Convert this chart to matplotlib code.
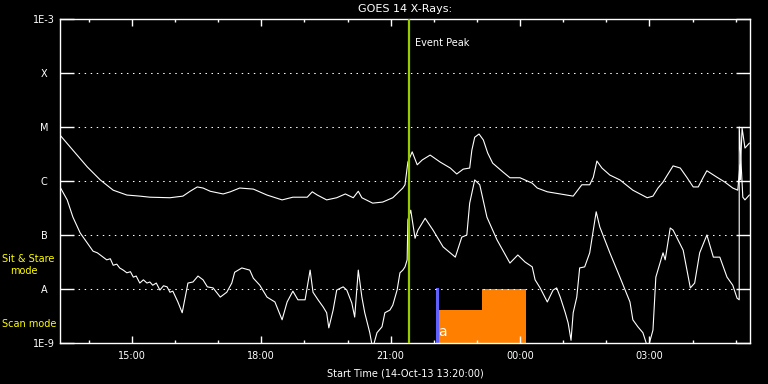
import matplotlib
matplotlib.use('Agg')
import matplotlib.pyplot as plt
import numpy as np

# minutes after 13:20 (14-Oct-13), log10 flux [W/m^2]
long_t = [0, 18, 38, 56, 74, 93, 111, 125, 153, 171, 181, 191, 199, 209, 227, 237, 250, 269,
          288, 309, 324, 344, 351, 358, 371, 385, 397, 408, 415, 420, 435, 449, 463, 477,
          480, 484, 490, 497, 504, 515, 529, 543, 552, 561, 570, 573, 577, 583, 589, 595,
          602, 616, 626, 640, 657, 664, 678, 696, 714, 726, 737, 742, 747, 754, 765, 779,
          797, 817, 825, 832, 839, 845, 853, 863, 872, 881, 888, 895, 900, 914, 925, 936,
          943, 946, 946, 949, 953, 959]
long_f = [-5.15, -5.43, -5.74, -5.98, -6.17, -6.26, -6.28, -6.30, -6.31, -6.28, -6.19, -6.11,
          -6.13, -6.19, -6.24, -6.20, -6.13, -6.15, -6.26, -6.35, -6.30, -6.30, -6.20, -6.26,
          -6.35, -6.31, -6.24, -6.31, -6.19, -6.31, -6.41, -6.39, -6.31, -6.13, -6.07, -5.65,
          -5.46, -5.70, -5.61, -5.52, -5.65, -5.76, -5.87, -5.78, -5.76, -5.43, -5.19, -5.13,
          -5.24, -5.48, -5.67, -5.83, -5.94, -5.94, -6.04, -6.13, -6.20, -6.24, -6.28, -6.07,
          -6.07, -5.93, -5.63, -5.76, -5.89, -5.98, -6.17, -6.31, -6.28, -6.13, -6.02, -5.89,
          -5.72, -5.76, -5.93, -6.11, -6.11, -5.93, -5.81, -5.93, -6.02, -6.13, -6.17, -5.70,
          -5.98, -5.02, -5.39, -5.30]

short_t = [0, 10, 18, 28, 38, 46, 52, 56, 60, 65, 70, 74, 79, 83, 88, 93, 98, 102, 106, 111,
           116, 121, 125, 129, 134, 139, 144, 149, 153, 157, 164,
           170, 174, 178, 185, 192, 199, 205, 213, 223, 232, 239, 243, 253, 264, 269, 278, 288,
           299, 309, 316, 324, 331, 341, 348, 352, 359, 366, 371, 374, 380, 385, 394, 399, 406,
           410, 415, 420, 424, 431, 435, 441, 448, 452, 459, 463, 469, 473, 477, 480, 483, 484,
           488, 494, 498, 508, 519, 533, 550, 559, 566, 570, 577, 584, 594, 608, 626, 637, 647,
           657, 661, 668, 678, 686, 691, 696, 703, 707, 711, 714, 719, 723, 730, 737, 742, 746,
           751, 765, 779, 793, 797, 804, 811, 818, 825, 829, 839, 842, 849, 853, 867, 877, 883,
           890, 900, 909, 918, 928, 936, 942, 945, 945, 950, 953, 959]
short_f = [-6.11, -6.35, -6.67, -6.96, -7.15, -7.30, -7.33, -7.37, -7.41, -7.46, -7.44, -7.56,
           -7.54, -7.61, -7.65, -7.70, -7.68, -7.78, -7.76, -7.89, -7.83, -7.89, -7.87, -7.93,
           -7.89, -8.02, -7.94, -7.96, -8.06, -8.04, -8.24, -8.44, -8.17, -7.89, -7.87, -7.76,
           -7.83, -7.96, -7.98, -8.15, -8.06, -7.89, -7.69, -7.61, -7.65, -7.80, -7.93, -8.15,
           -8.24, -8.57, -8.24, -8.04, -8.20, -8.20, -7.65, -8.06, -8.20, -8.33, -8.44, -8.72,
           -8.39, -8.02, -7.96, -8.02, -8.26, -8.52, -7.65, -8.15, -8.44, -8.81, -9.10, -8.81,
           -8.70, -8.44, -8.39, -8.30, -8.02, -7.70, -7.65, -7.59, -7.46, -6.72, -6.54, -7.06,
           -6.91, -6.69, -6.91, -7.22, -7.41, -7.04, -7.00, -6.41, -5.98, -6.07, -6.67, -7.09,
           -7.52, -7.37, -7.50, -7.59, -7.83, -7.98, -8.24, -8.02, -7.98, -8.15, -8.44, -8.63,
           -8.95, -8.44, -8.15, -7.61, -7.59, -7.33, -6.91, -6.57, -6.85, -7.33, -7.78, -8.24,
           -8.57, -8.70, -8.81, -9.10, -8.76, -7.78, -7.33, -7.46, -6.87, -6.91, -7.28, -7.98,
           -7.89, -7.33, -7.00, -7.41, -7.41, -7.78, -7.93, -8.17, -8.20, -5.00, -6.30, -6.35,
           -6.26]

event_peak = 486          # 21:26
mode_switch = 525         # 22:05
scan_t = [527, 587, 649]  # start, step, end
scan_lvl = [-8.39, -8.0]

tick_major = [100, 280, 460, 640, 820]
tick_labels = ['15:00', '18:00', '21:00', '00:00', '03:00']
ytick_vals = [1e-9, 1e-8, 1e-7, 1e-6, 1e-5, 1e-4, 1e-3]
ytick_labels = ['1E-9', 'A', 'B', 'C', 'M', 'X', '1E-3']

fig = plt.figure(figsize=(7.68, 3.84), dpi=100, facecolor='black')
ax = fig.add_axes([60/768, 41/384, 690/768, 324/384])
ax.set_facecolor('black')

# scan mode blocks
ax.fill_between([scan_t[0], scan_t[1]], 1e-9, 10**scan_lvl[0], color='#FF8000', lw=0, zorder=1)
ax.fill_between([scan_t[1], scan_t[2]], 1e-9, 10**scan_lvl[1], color='#FF8000', lw=0, zorder=1)
ax.plot([mode_switch, mode_switch], [1e-9, 1e-8], color='#6060FF', lw=2.2, zorder=2)

ax.plot(long_t, 10**np.array(long_f), color='white', lw=0.8, zorder=3)
ax.plot(short_t, 10**np.array(short_f), color='white', lw=0.8, zorder=3)

ax.axvline(event_peak, color='#99CC00', lw=1.6, zorder=4)
ax.text(event_peak + 8, 10**-3.45, 'Event Peak', color='white', fontsize=7, va='center')
ax.text(scan_t[0] - 1, 10**-8.8, 'a', color='white', fontsize=10, va='center', ha='left')

for v in ytick_vals[1:-1]:
    ax.axhline(v, color='white', lw=0.75, ls=(0, (1.4, 4.4)), zorder=2)

ax.set_yscale('log')
ax.set_ylim(1e-9, 1e-3)
ax.set_xlim(0, 960)
ax.set_yticks(ytick_vals)
ax.set_yticklabels(ytick_labels)
ax.yaxis.set_minor_locator(matplotlib.ticker.NullLocator())
ax.set_xticks(tick_major)
ax.set_xticklabels(tick_labels)
ax.set_xticks([40 + 60 * k for k in range(16) if 40 + 60 * k not in tick_major], minor=True)

ax.tick_params(axis='y', which='major', direction='in', length=10, width=1, colors='white',
               right=True, labelsize=7, pad=11.5)
ax.tick_params(axis='x', which='major', direction='in', length=5, width=1, colors='white',
               top=True, labelsize=7, pad=6)
ax.tick_params(axis='x', which='minor', direction='in', length=2.5, width=1, colors='white', top=True)
for lab in ax.get_yticklabels():
    lab.set_ha('center')
for s in ax.spines.values():
    s.set_color('white')
    s.set_linewidth(1)

ax.set_title('GOES 14 X-Rays:', color='white', fontsize=8, pad=5)
ax.set_xlabel('Start Time (14-Oct-13 13:20:00)', color='white', fontsize=7, labelpad=5)

fig.text(2/768, 1 - 259/384, 'Sit & Stare', color='yellow', fontsize=7, va='center')
fig.text(24/768, 1 - 271/384, 'mode', color='yellow', fontsize=7, va='center', ha='center')
fig.text(2/768, 1 - 324/384, 'Scan mode', color='yellow', fontsize=7, va='center')

fig.savefig('out.png', dpi=100, facecolor='black')
